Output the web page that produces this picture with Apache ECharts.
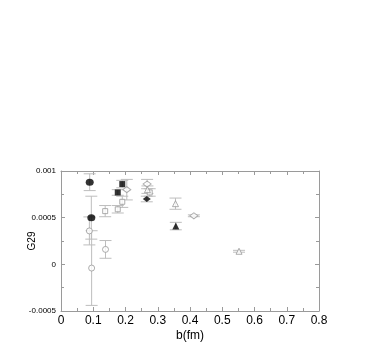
<!DOCTYPE html>
<html>
<head>
<meta charset="utf-8">
<script src="https://cdn.jsdelivr.net/npm/echarts@6/dist/echarts.min.js"></script>
<style>
  html, body { margin: 0; padding: 0; background: #fff; }
  #chart { width: 392px; height: 343px; }
</style>
</head>
<body>
<div id="chart"></div>
<script>
// G29 vs b(fm)
const filledCircleX = [0.089, 0.094]
const filledCircleY = [0.00088, 0.00050]
const filledCircleErr = [0.00009, 0.00023]

const openCircleX = [0.088, 0.095, 0.138]
const openCircleY = [0.000358, -0.00004, 0.00016]
const openCircleErr = [0.00015, 0.00040, 0.000095]

const filledSquareX = [0.176, 0.190]
const filledSquareY = [0.00077, 0.00086]
const filledSquareErr = [0.00003, 0.00004]

const openSquareX = [0.137, 0.176, 0.190, 0.275]
const openSquareY = [0.00057, 0.00059, 0.00067, 0.00077]
const openSquareErr = [0.00006, 0.00004, 0.00006, 0.00004]

const openDiamondX = [0.204, 0.267, 0.412]
const openDiamondY = [0.00080, 0.00086, 0.00052]
const openDiamondErr = [0.00011, 0.00005, 0.00001]

const filledDiamondX = [0.266]
const filledDiamondY = [0.00070]
const filledDiamondErr = [0.00003]

const openTriangleX = [0.268, 0.355, 0.552]
const openTriangleY = [0.00080, 0.00065, 0.00014]
const openTriangleErr = [0.00004, 0.00006, 0.00001]

const filledTriangleX = [0.356]
const filledTriangleY = [0.00041]
const filledTriangleErr = [0.00004]

const groups = [
  { x: openCircleX, y: openCircleY, err: openCircleErr, symbol: 'circle', filled: false, size: 6 },
  { x: openSquareX, y: openSquareY, err: openSquareErr, symbol: 'rect', filled: false, size: 5 },
  { x: openDiamondX, y: openDiamondY, err: openDiamondErr, symbol: 'diamond', filled: false, size: [8, 6] },
  { x: openTriangleX, y: openTriangleY, err: openTriangleErr, symbol: 'triangle', filled: false, size: 6 },
  { x: filledCircleX, y: filledCircleY, err: filledCircleErr, symbol: 'circle', filled: true, size: [8, 7] },
  { x: filledSquareX, y: filledSquareY, err: filledSquareErr, symbol: 'rect', filled: true, size: 6 },
  { x: filledDiamondX, y: filledDiamondY, err: filledDiamondErr, symbol: 'diamond', filled: true, size: [8, 6] },
  { x: filledTriangleX, y: filledTriangleY, err: filledTriangleErr, symbol: 'triangle', filled: true, size: 7 },
]

const axisGray = '#9a9a9a'
const errGray = '#bdbdbd'

function errorSeries(g) {
  return {
    type: 'custom',
    silent: true,
    z: 1,
    data: g.x.map((x, i) => [x, g.y[i] - g.err[i], g.y[i] + g.err[i]]),
    renderItem: function (params, api) {
      const lo = api.coord([api.value(0), api.value(1)])
      const hi = api.coord([api.value(0), api.value(2)])
      const w = 6
      const style = { stroke: errGray, lineWidth: 1 }
      return {
        type: 'group',
        children: [
          { type: 'line', shape: { x1: hi[0], y1: hi[1], x2: lo[0], y2: lo[1] }, style },
          { type: 'line', shape: { x1: hi[0] - w, y1: hi[1], x2: hi[0] + w, y2: hi[1] }, style },
          { type: 'line', shape: { x1: lo[0] - w, y1: lo[1], x2: lo[0] + w, y2: lo[1] }, style },
        ]
      }
    }
  }
}

function markerSeries(g) {
  return {
    type: 'scatter',
    z: 3,
    symbol: g.symbol,
    symbolSize: g.size,
    data: g.x.map((x, i) => [x, g.y[i]]),
    itemStyle: g.filled
      ? { color: '#000' }
      : { color: '#fff', borderColor: '#999', borderWidth: 1 }
  }
}

const series = []
groups.forEach(g => series.push(errorSeries(g)))
groups.forEach(g => series.push(markerSeries(g)))

const xBase = {
  min: 0, max: 0.8, interval: 0.1,
  axisLine: { show: true, onZero: false, lineStyle: { color: axisGray } },
  axisTick: { show: true, inside: true, length: 4, lineStyle: { color: axisGray } },
  minorTick: { show: true, splitNumber: 2, length: 3, lineStyle: { color: axisGray } },
  splitLine: { show: false },
}
const yBase = {
  min: -0.0005, max: 0.001, interval: 0.0005,
  axisLine: { show: true, onZero: false, lineStyle: { color: axisGray } },
  axisTick: { show: true, inside: true, length: 4, lineStyle: { color: axisGray } },
  minorTick: { show: true, splitNumber: 2, length: 3, lineStyle: { color: axisGray } },
  splitLine: { show: false },
}

const chart = echarts.init(document.getElementById('chart'))
chart.setOption({
  animation: false,
  grid: { left: 61, right: 73, top: 171, bottom: 27 },
  xAxis: [
    Object.assign({}, xBase, {
      type: 'value', position: 'bottom',
      name: 'b(fm)', nameLocation: 'middle', nameGap: 19, nameMoveOverlap: false,
      nameTextStyle: { fontFamily: 'Liberation Sans', fontSize: 12, color: '#000' },
      axisLabel: { fontFamily: 'Liberation Sans', fontSize: 12, color: '#000', margin: 4,
        formatter: v => String(+v.toFixed(2)) }
    }),
    Object.assign({}, xBase, { type: 'value', position: 'top', axisLabel: { show: false } })
  ],
  yAxis: [
    Object.assign({}, yBase, {
      type: 'value', position: 'left',
      name: 'G29', nameLocation: 'middle', nameGap: 24, nameRotate: 90, nameMoveOverlap: false,
      nameTextStyle: { fontFamily: 'Liberation Sans', fontSize: 10, color: '#000' },
      axisLabel: { fontFamily: 'Liberation Sans', fontSize: 8, color: '#000', margin: 5,
        formatter: v => String(+v.toFixed(4)) }
    }),
    Object.assign({}, yBase, { type: 'value', position: 'right', axisLabel: { show: false } })
  ],
  series: series
})
</script>
</body>
</html>
